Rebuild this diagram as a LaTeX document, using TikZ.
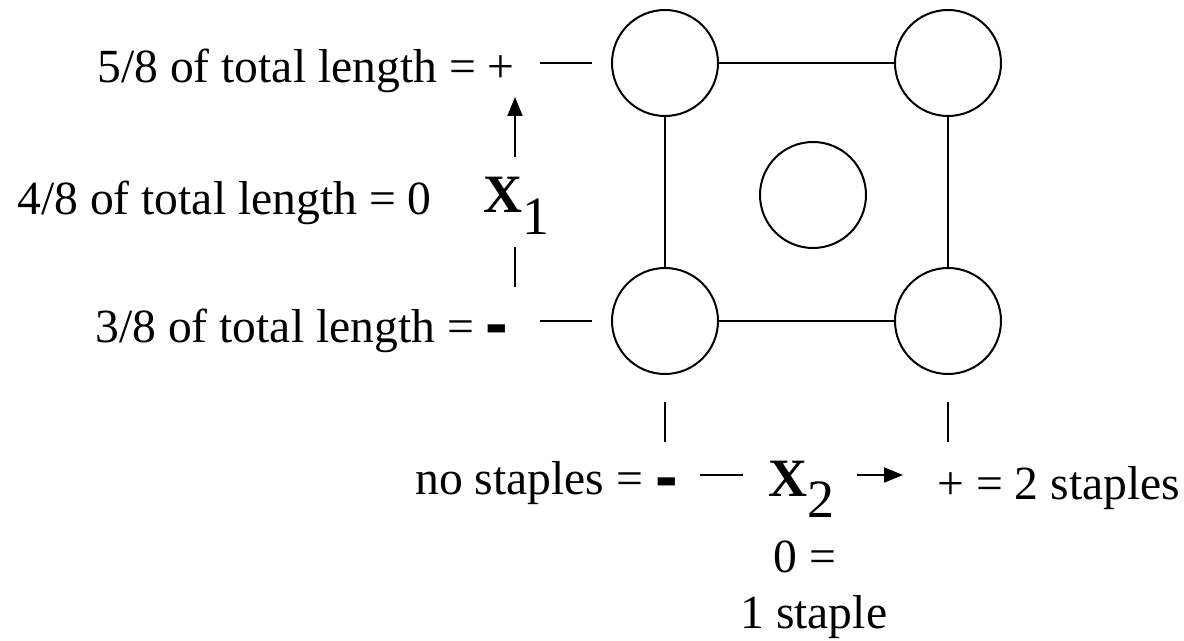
\documentclass[tikz,border=0pt]{standalone}
\usepackage{fontspec}
\setmainfont{Liberation Serif}
\setsansfont{Liberation Sans}
\usepackage{tikz}
\usetikzlibrary{arrows.meta,positioning}
\newcommand{\negdash}{\raisebox{-2pt}{\fontsize{34}{34}\selectfont\sffamily\bfseries -}}

\begin{document}
\begin{tikzpicture}[x=0.5pt,y=-0.5pt,
  run/.style={draw,circle,line width=1pt,minimum size=53pt,inner sep=0pt},
  lbl/.style={inner sep=0pt,font=\fontsize{23.8}{27.5}\selectfont},
  var/.style={inner sep=0pt,font=\fontsize{27}{30}\selectfont},
  tick/.style={line width=1pt},
  axis/.style={line width=1pt,-{Triangle[length=9.5pt,width=7.5pt]}}]
  \useasboundingbox (0,0) rectangle (1184,641);
  % Design points
  \node[run] (tl) at (665,63) {};
  \node[run] (tr) at (948,63) {};
  \node[run] (bl) at (665,321) {};
  \node[run] (br) at (948,321) {};
  \node[run] (ctr) at (813,195) {};
  \draw[tick] (tl) -- (tr);
  \draw[tick] (bl) -- (br);
  \draw[tick] (tl) -- (bl);
  \draw[tick] (tr) -- (br);
  % Factor X1 (length)
  \node[lbl,anchor=base east] (hi1) at (515,83) {5/8 of total length = +};
  \node[lbl,anchor=base west] (mid1) at (17,215) {4/8 of total length = 0};
  \node[lbl,anchor=base west] (lo1) at (95,343) {3/8 of total length = \negdash};
  \node[var,anchor=base west] (x1) at (483,213) {\textbf{X}\raisebox{-11pt}{1}};
  \coordinate (hi1-a) at (540,63);
  \coordinate (hi1-b) at (592,63);
  \coordinate (lo1-a) at (540,321);
  \coordinate (lo1-b) at (592,321);
  \coordinate (ax1-a) at (515,157);
  \coordinate (ax1-b) at (515,97);
  \coordinate (ax1-c) at (515,247);
  \coordinate (ax1-d) at (515,287);
  \draw[tick] (hi1-a) -- (hi1-b);
  \draw[tick] (lo1-a) -- (lo1-b);
  \draw[axis] (ax1-a) -- (ax1-b);
  \draw[tick] (ax1-c) -- (ax1-d);
  % Factor X2 (staples)
  \node[lbl,anchor=base west] (lo2) at (415,495) {no staples = \negdash};
  \node[lbl,anchor=base west] (hi2) at (937,500) {+ = 2 staples};
  \node[lbl,anchor=base west] (mid2) at (773,573) {0 =};
  \node[lbl,anchor=base west] (mid2b) at (740,628) {1 staple};
  \node[var,anchor=base west] (x2) at (768,497) {\textbf{X}\raisebox{-10pt}{2}};
  \coordinate (lo2-a) at (665,402);
  \coordinate (lo2-b) at (665,442);
  \coordinate (hi2-a) at (948,402);
  \coordinate (hi2-b) at (948,442);
  \coordinate (ax2-a) at (700,475);
  \coordinate (ax2-b) at (743,475);
  \coordinate (ax2-c) at (857,475);
  \coordinate (ax2-d) at (903,475);
  \draw[tick] (lo2-a) -- (lo2-b);
  \draw[tick] (hi2-a) -- (hi2-b);
  \draw[tick] (ax2-a) -- (ax2-b);
  \draw[axis] (ax2-c) -- (ax2-d);
\end{tikzpicture}
\end{document}
